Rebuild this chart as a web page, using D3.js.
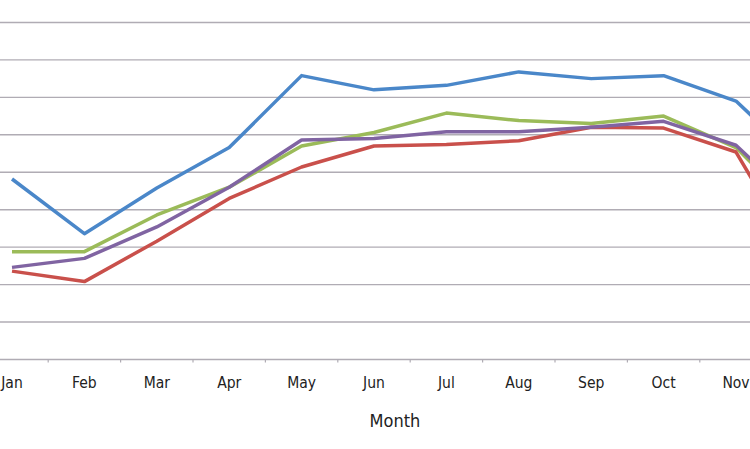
<!DOCTYPE html>
<html>
<head>
<meta charset="utf-8">
<script src="https://cdn.jsdelivr.net/npm/d3@7"></script>
<style>
  body { margin: 0; background: #fff; overflow: hidden; }
  text { font-family: "DejaVu Sans Condensed", "DejaVu Sans", sans-serif; font-stretch: condensed; fill: #222; }
</style>
</head>
<body>
<script>
const months = ["Jan", "Feb", "Mar", "Apr", "May", "Jun", "Jul", "Aug", "Sep", "Oct", "Nov", "Dec"];
const blueSeries   = [24.1, 16.8, 22.9, 28.3, 37.9, 36.0, 36.6, 38.4, 37.5, 37.9, 34.5, 25.4];
const greenSeries  = [14.4, 14.4, 19.3, 23.0, 28.5, 30.3, 32.9, 31.9, 31.5, 32.5, 28.3, 18.6];
const purpleSeries = [12.3, 13.5, 17.7, 23.0, 29.3, 29.5, 30.4, 30.4, 31.0, 31.8, 28.6, 19.6];
const redSeries    = [11.8, 10.4, 15.8, 21.5, 25.7, 28.5, 28.7, 29.2, 31.0, 30.9, 27.7, 11.3];
const gridValues = [0, 5, 10, 15, 20, 25, 30, 35, 40, 45];

const W = 750, H = 449;
const svg = d3.select("body").append("svg").attr("width", W).attr("height", H);

// the plot area runs past the left and right edges of the picture
const x = d3.scaleBand().domain(months).range([-24.2, 844.6]).paddingInner(0).paddingOuter(0);
const y = d3.scaleLinear().domain([0, 50]).range([359.5, -15]);
const cx = d => x(d) + x.bandwidth() / 2;

svg.append("g")
  .selectAll("line")
  .data(gridValues.slice(1))
  .enter()
  .append("line")
  .attr("x1", 0).attr("x2", W)
  .attr("y1", d => y(d)).attr("y2", d => y(d))
  .attr("stroke", "#b0acb4").attr("stroke-width", 1.4);

// category axis: line, ticks between months, labels
const axis = svg.append("g");
axis.append("line")
  .attr("x1", 0).attr("x2", W)
  .attr("y1", y(0)).attr("y2", y(0))
  .attr("stroke", "#b0acb4").attr("stroke-width", 1.4);
axis.selectAll("line.tick")
  .data(months.slice(1))
  .enter()
  .append("line")
  .attr("class", "tick")
  .attr("x1", d => x(d)).attr("x2", d => x(d))
  .attr("y1", y(0)).attr("y2", y(0) + 3)
  .attr("stroke", "#b0acb4").attr("stroke-width", 1.2);
axis.selectAll("text")
  .data(months)
  .enter()
  .append("text")
  .attr("x", cx)
  .attr("y", 387.5)
  .attr("text-anchor", "middle")
  .style("font-size", "15.5px")
  .text(d => d);

svg.append("text")
  .attr("x", 395)
  .attr("y", 426.5)
  .attr("text-anchor", "middle")
  .style("font-size", "18px")
  .text("Month");

const series = [
  { name: "blue", values: blueSeries, color: "#4a87c9" },
  { name: "green", values: greenSeries, color: "#9bbb59" },
  { name: "purple", values: purpleSeries, color: "#8064a2" },
  { name: "red", values: redSeries, color: "#c9504b" }
];

const line = d3.line()
  .x((v, i) => cx(months[i]))
  .y(v => y(v));

// drawn so red ends up on top, as in the original
svg.append("g")
  .selectAll("path")
  .data([series[0], series[1], series[3], series[2]])
  .enter()
  .append("path")
  .attr("d", s => line(s.values))
  .attr("fill", "none")
  .attr("stroke", s => s.color)
  .attr("stroke-width", 3.5)
  .attr("stroke-linejoin", "round");
</script>
</body>
</html>
